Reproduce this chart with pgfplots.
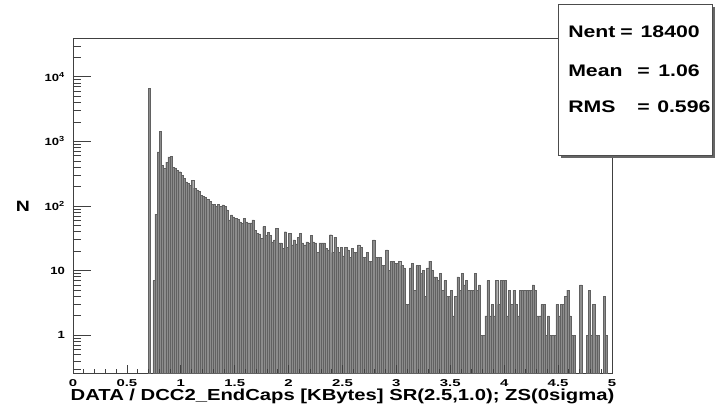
\documentclass[border=0pt]{standalone}
\usepackage{pgfplots}
\pgfplotsset{compat=1.18}
\usepackage{fontspec}
\setmainfont{Liberation Sans}
\begin{document}
\begin{tikzpicture}
\begin{axis}[
  scale only axis, width=539bp, height=335bp,
  xmin=0, xmax=5, ymode=log, ymin=0.26, ymax=40000,
  tick style={black!75, line width=0.8bp},
  tick align=inside, tick pos=left,
  log origin y=infty,
  axis line style={black!75, line width=0.8bp},
  xtick=\empty,
  ytick={1,10,100,1000,10000},
  yticklabels={1,10,10\textsuperscript{2},10\textsuperscript{3},10\textsuperscript{4}},
  minor ytick={0.3,0.4,0.5,0.6,0.7,0.8,0.9,2,3,4,5,6,7,8,9,20,30,40,50,60,70,80,90,200,300,400,500,600,700,800,900,2000,3000,4000,5000,6000,7000,8000,9000,20000,30000},
  major tick length=18bp, minor tick length=8bp,
  yticklabel style={font=\bfseries\fontsize{10.5}{12}\selectfont, xscale=1.25, xshift=-3bp},
]
\addplot[ybar, bar width=0.02, bar shift=0pt, fill=black!45, draw=black!62, line width=0.4bp] coordinates {
(0.71,6700) (0.75,7) (0.77,75) (0.79,690) (0.81,1450) (0.83,430) (0.85,385) (0.87,480) (0.89,575) (0.91,590)
(0.93,400) (0.95,390) (0.97,360) (0.99,340) (1.01,300) (1.03,270) (1.05,237) (1.07,225) (1.09,210) (1.11,250)
(1.13,190) (1.15,178) (1.17,167) (1.19,148) (1.21,140) (1.23,138) (1.25,128) (1.27,117) (1.29,107) (1.31,107)
(1.33,98) (1.35,105) (1.37,100)
(1.39,104) (1.41,98) (1.43,87) (1.45,61) (1.47,73) (1.49,68) (1.51,64) (1.53,62) (1.55,57) (1.57,54)
(1.59,64) (1.61,57) (1.63,55) (1.65,55) (1.67,61) (1.69,42) (1.71,38) (1.73,37) (1.75,32) (1.77,48)
(1.79,35) (1.81,39) (1.83,35) (1.85,28) (1.87,30) (1.89,45) (1.91,27) (1.93,27) (1.95,22) (1.97,40)
(1.99,23) (2.01,38) (2.03,25) (2.05,30) (2.07,26) (2.09,33)
(2.11,38) (2.13,27) (2.15,25) (2.17,28) (2.19,27) (2.21,35) (2.23,28) (2.25,27) (2.27,19) (2.29,27)
(2.31,27) (2.33,27) (2.35,22) (2.37,21) (2.39,36) (2.41,19) (2.43,33) (2.45,23) (2.47,19) (2.49,23)
(2.51,17) (2.53,23) (2.55,21) (2.57,16) (2.59,22) (2.61,19) (2.63,19) (2.65,25) (2.67,23) (2.69,16)
(2.71,16) (2.73,19) (2.75,14) (2.77,14) (2.79,30) (2.81,16)
(2.83,16) (2.85,16) (2.87,12) (2.89,12) (2.91,21) (2.93,10) (2.95,14) (2.97,14) (2.99,13) (3.01,13)
(3.03,14) (3.05,12) (3.07,11) (3.09,3) (3.11,3) (3.13,11) (3.15,13) (3.17,5) (3.19,12) (3.21,12)
(3.23,9) (3.25,10) (3.27,4) (3.29,11) (3.31,14) (3.33,10) (3.35,8) (3.37,8) (3.39,7) (3.41,9)
(3.43,5) (3.45,7) (3.47,4) (3.49,4) (3.51,5) (3.53,2)
(3.55,4) (3.57,8) (3.59,5) (3.61,9) (3.63,6) (3.65,7) (3.67,5) (3.69,5) (3.71,5) (3.73,9)
(3.75,5) (3.77,6) (3.79,1) (3.81,1) (3.83,2) (3.85,7) (3.87,2) (3.89,3) (3.91,2) (3.93,7)
(3.95,3) (3.97,7) (3.99,7) (4.01,7) (4.03,2) (4.05,5) (4.07,3) (4.09,5) (4.11,3) (4.13,2)
(4.15,5) (4.17,5) (4.19,5) (4.21,5) (4.23,5) (4.25,5) (4.27,6) (4.29,5) (4.31,2) (4.33,2)
(4.35,3) (4.37,3) (4.39,1) (4.41,2) (4.43,1) (4.45,1) (4.47,1) (4.49,3) (4.51,2) (4.53,3)
(4.55,3) (4.57,4) (4.59,5) (4.61,2) (4.63,1) (4.65,1) (4.71,6) (4.77,1) (4.79,5) (4.81,1)
(4.83,3) (4.85,1) (4.87,1) (4.93,4) (4.95,1)
};
\coordinate (O) at (rel axis cs:0,0);
\end{axis}
\begin{axis}[
  scale only axis, width=539bp, height=335bp,
  xmin=0, xmax=5, ymode=log, ymin=0.26, ymax=40000,
  tick style={black!75, line width=0.8bp},
  tick align=inside, tick pos=left,
  axis line style={draw=none},
  ytick=\empty, yminorticks=false,
  xtick={0,0.5,1,1.5,2,2.5,3,3.5,4,4.5,5},
  xticklabels={0,0.5,1,1.5,2,2.5,3,3.5,4,4.5,5},
  minor x tick num=4,
  major tick length=8bp, minor tick length=4bp,
  xticklabel style={font=\bfseries\fontsize{10}{11}\selectfont, xscale=1.5, yshift=-3bp},
]
\end{axis}
\begin{scope}[shift={(O)}, x=1bp, y=1bp]
  \fill[black!60] (487.7,215.3) rectangle (641.7,366.3);
  \draw[fill=white, draw=black!70, line width=0.8bp] (485,218) rectangle (639,369);
  \begin{scope}[every node/.style={font=\bfseries\fontsize{16.8}{20}\selectfont, xscale=1.27, inner sep=0pt}]
    \node[anchor=base west] at (495,335.7) {Nent};
    \node[anchor=base west] at (547,335.7) {=};
    \node[anchor=base east] at (627,335.7) {18400};
    \node[anchor=base west] at (495,297) {Mean};
    \node[anchor=base west] at (564,297) {=};
    \node[anchor=base east] at (627,297) {1.06};
    \node[anchor=base west] at (495,260.3) {RMS};
    \node[anchor=base west] at (564,260.3) {=};
    \node[anchor=base west] at (584,260.3) {0.596};
  \end{scope}
  \node[anchor=base, font=\bfseries\fontsize{16}{19}\selectfont, xscale=1.27, inner sep=0pt] at (269.5,-27) {DATA / DCC2\_EndCaps [KBytes] SR(2.5,1.0); ZS(0sigma)};
  \node[anchor=base, font=\bfseries\fontsize{15}{18}\selectfont, xscale=1.3, inner sep=0pt] at (-50,161.5) {N};
\end{scope}
\pgfresetboundingbox
\path[use as bounding box] (O) ++(-73bp,-40bp) rectangle ++(725bp,413bp);
\end{tikzpicture}
\end{document}
